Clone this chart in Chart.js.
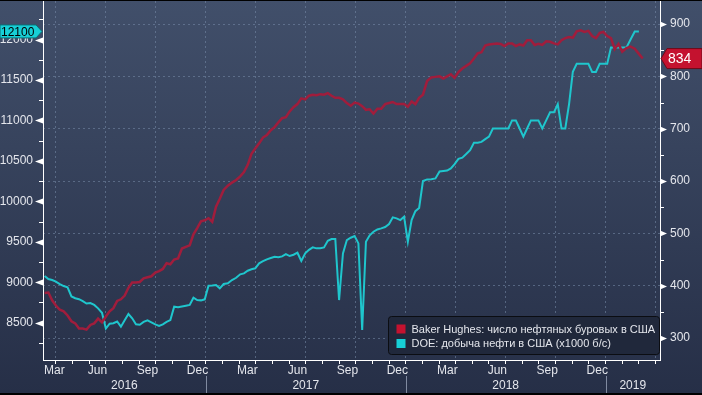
<!DOCTYPE html>
<html>
<head>
<meta charset="utf-8">
<script src="https://cdn.jsdelivr.net/npm/chart.js@4.4.1/dist/chart.umd.min.js"></script>
<style>
  html, body { margin: 0; padding: 0; background: #000; }
  canvas { display: block; }
</style>
</head>
<body>
<canvas id="chart" width="702" height="395"></canvas>
<script>
// weekly Baker Hughes oil rig count, Fridays from 2016-03-11
const rigStart = '2016-03-11';
const rigCount = [
  386, 387, 372,
  362, 354, 351, 343, 332,
  328, 318, 318, 316,
  325, 328, 337, 330,
  341, 351, 357, 371, 374,
  381, 396, 406, 406,
  407, 414, 416, 418, 425,
  428, 432, 443, 441,
  450, 452, 471, 474,
  477, 498, 510, 523, 525,
  529, 522, 551, 566,
  583, 591, 597, 602,
  609, 617, 631, 652, 662,
  672, 683, 688, 697,
  703, 712, 720, 722,
  733, 741, 747, 758, 756,
  763, 765, 764, 766,
  765, 768, 763, 759,
  759, 756, 749, 744, 750,
  748, 743, 736, 737,
  729, 738, 738, 747,
  749, 751, 747, 747, 747,
  742, 752, 747, 759,
  765, 791, 798, 799,
  800, 796, 800, 804, 797,
  808, 815, 820, 825,
  834, 844, 846, 859,
  861, 862, 863, 862, 858,
  863, 863, 858, 861,
  859, 869, 869, 860, 862,
  860, 867, 866, 863,
  861, 869, 873, 875,
  874, 886, 888, 885, 887,
  877, 873, 883, 885,
  877, 873, 852, 862,
  847, 854, 857, 853,
  843, 834
];

// weekly DOE crude output, thousand b/d, from 2016-03-11
const prodStart = '2016-03-11';
const prodValues = [
  9077, 9040, 9027, 9008, 8977, 8953, 8938, 8825, 8802, 8791,
  8767, 8737, 8743, 8720, 8677, 8622, 8428, 8487, 8494, 8515,
  8451, 8530, 8607, 8554, 8480, 8475, 8510, 8530, 8505, 8480,
  8460, 8480, 8510, 8533, 8698, 8690, 8700, 8710, 8719, 8809,
  8780, 8776, 8789, 8957, 8960, 8966, 8925, 8978, 8987, 9027,
  9055, 9098, 9110, 9142, 9160, 9172, 9234, 9260, 9283, 9300,
  9315, 9308, 9320, 9348, 9324, 9340, 9365, 9262, 9357, 9400,
  9431, 9419, 9420, 9431, 9513, 9534, 9534, 8780, 9357, 9521,
  9550, 9571, 9480, 8410, 9500, 9580, 9624, 9653, 9666, 9682,
  9719, 9802, 9789, 9768, 9809, 9500, 9768, 9879, 9919, 10251,
  10271, 10273, 10283, 10369, 10375, 10381, 10407, 10460, 10525, 10540,
  10586, 10633, 10723, 10723, 10735, 10769, 10800, 10900, 10900, 10900,
  10900, 10900, 11000, 11000, 10900, 10800, 10900, 11000, 11000, 11000,
  10900, 11000, 11100, 11100, 11200, 10900, 10900, 11200, 11600, 11700,
  11700, 11700, 11700, 11600, 11600, 11700, 11700, 11700, 11900, 11900,
  11900, 11900, 11900, 12000, 12100, 12100
];

const prodTicks = [8500, 9000, 9500, 10000, 10500, 11000, 11500, 12000];
const rigTicks = [300, 400, 500, 600, 700, 800, 900];
const monthNames = ['Jan', 'Feb', 'Mar', 'Apr', 'May', 'Jun', 'Jul', 'Aug', 'Sep', 'Oct', 'Nov', 'Dec'];
const seriesNames = [
  'Baker Hughes: число нефтяных буровых в США',
  'DOE: добыча нефти в США (x1000 б/с)'
];
const viewStart = '2016-03-08';
const viewEnd = '2019-04-09';

const RED = '#a01d3c';
const CYAN = '#1fc6cd';
const GRID = 'rgba(120,140,170,0.55)';
const TXT = '#e4e6ec';
const FONT = '"Liberation Sans", Arial, sans-serif';

// months since Jan 2016, fractional
function monthPos(d) {
  const y = d.getUTCFullYear(), mo = d.getUTCMonth(), day = d.getUTCDate();
  const dim = new Date(Date.UTC(y, mo + 1, 0)).getUTCDate();
  return (y - 2016) * 12 + mo + (day - 1) / dim;
}
function parseDay(s) { return new Date(s + 'T00:00:00Z'); }
function weekly(start, values) {
  const t0 = parseDay(start).getTime();
  return values.map((v, i) => ({ x: monthPos(new Date(t0 + i * 7 * 864e5)), y: v }));
}

const xMin = monthPos(parseDay(viewStart));
const xMax = monthPos(parseDay(viewEnd));

const bgPlugin = {
  id: 'bg',
  beforeDraw(chart) {
    const { ctx, width, height } = chart;
    ctx.save();
    ctx.fillStyle = '#000';
    ctx.fillRect(0, 0, width, height);
    const g = ctx.createLinearGradient(0, 1, 0, height - 2);
    g.addColorStop(0, '#414f6a');
    g.addColorStop(1, '#262f47');
    ctx.fillStyle = g;
    ctx.fillRect(0, 1, width, height - 3);
    ctx.restore();
  }
};

function flagShape(ctx, pts, fill, stroke) {
  ctx.beginPath();
  pts.forEach((p, i) => i ? ctx.lineTo(p[0], p[1]) : ctx.moveTo(p[0], p[1]));
  ctx.closePath();
  ctx.fillStyle = fill;
  ctx.fill();
  if (stroke) { ctx.strokeStyle = stroke; ctx.lineWidth = 1; ctx.stroke(); }
}

const decorPlugin = {
  id: 'decor',
  afterDraw(chart) {
    const { ctx, chartArea: a, scales } = chart;
    const xs = scales.x, yl = scales.yL, yr = scales.yR;
    ctx.save();
    ctx.fillStyle = '#fff';
    ctx.strokeStyle = '#fff';
    ctx.lineWidth = 1;

    // major tick arrows
    prodTicks.forEach(v => {
      const y = Math.round(yl.getPixelForValue(v)) + 0.5;
      ctx.beginPath();
      ctx.moveTo(a.left, y - 3); ctx.lineTo(a.left - 8, y); ctx.lineTo(a.left, y + 3);
      ctx.closePath(); ctx.fill();
    });
    rigTicks.forEach(v => {
      const y = Math.round(yr.getPixelForValue(v)) + 0.5;
      ctx.beginPath();
      ctx.moveTo(a.right, y - 3); ctx.lineTo(a.right + 7, y); ctx.lineTo(a.right, y + 3);
      ctx.closePath(); ctx.fill();
    });
    // minor ticks halfway between majors
    const pStep = prodTicks[1] - prodTicks[0];
    for (let v = prodTicks[0] - pStep / 2; v <= yl.max; v += pStep) {
      if (v < yl.min) continue;
      const y = Math.round(yl.getPixelForValue(v)) + 0.5;
      ctx.beginPath(); ctx.moveTo(a.left - 4, y); ctx.lineTo(a.left, y); ctx.stroke();
    }
    const rStep = rigTicks[1] - rigTicks[0];
    for (let v = rigTicks[0] - rStep / 2; v <= yr.max; v += rStep) {
      if (v < yr.min) continue;
      const y = Math.round(yr.getPixelForValue(v)) + 0.5;
      ctx.beginPath(); ctx.moveTo(a.right, y); ctx.lineTo(a.right + 4, y); ctx.stroke();
    }

    // month labels, mid-month, quarterly
    ctx.font = '12px ' + FONT;
    ctx.fillStyle = TXT;
    ctx.textBaseline = 'middle';
    ctx.textAlign = 'left';
    for (let m = Math.floor(xMin); m < xMax; m++) {
      if (m % 3 !== 2) continue;
      if (m + 0.5 < xMin || m + 0.5 > xMax - 1) continue;
      const txt = monthNames[m % 12];
      const w = ctx.measureText(txt).width;
      let cx = xs.getPixelForValue(m + 0.5);
      if (cx - w / 2 < a.left + 1) cx = a.left + 1 + w / 2;
      ctx.fillText(txt, cx - w / 2, a.bottom + 11);
    }
    // year labels and separators
    const firstYear = 2016 + Math.floor(xMin / 12);
    const lastYear = 2016 + Math.floor(xMax / 12);
    for (let yv = firstYear; yv <= lastYear; yv++) {
      const s = Math.max(xMin, (yv - 2016) * 12);
      const e = Math.min(xMax, (yv - 2015) * 12);
      const px0 = xs.getPixelForValue(s), px1 = xs.getPixelForValue(e);
      ctx.textAlign = 'center';
      ctx.fillStyle = TXT;
      ctx.fillText(String(yv), (px0 + px1) / 2, a.bottom + 26);
      if (yv > firstYear) {
        const x = Math.round(px0) + 0.5;
        ctx.strokeStyle = '#808aa0';
        ctx.beginPath(); ctx.moveTo(x, a.bottom + 16); ctx.lineTo(x, chart.height - 2); ctx.stroke();
      }
    }

    // last value flags
    const rigLast = rigCount[rigCount.length - 1];
    const ry = yr.getPixelForValue(rigLast);
    flagShape(ctx, [[a.right + 1, ry], [a.right + 7, ry - 10], [chart.width, ry - 10],
      [chart.width, ry + 10], [a.right + 7, ry + 10]], '#c4122f', '#6e0a1a');
    ctx.font = '14px ' + FONT;
    ctx.fillStyle = '#fff';
    ctx.textAlign = 'left';
    ctx.fillText(String(rigLast), a.right + 8, ry + 1);

    const prodLast = prodValues[prodValues.length - 1];
    const py = yl.getPixelForValue(prodLast);
    flagShape(ctx, [[0, py - 6.5], [a.left - 7, py - 6.5], [a.left - 1, py],
      [a.left - 7, py + 6.5], [0, py + 6.5]], '#17cfd6', '#0a6f74');
    ctx.font = '12px ' + FONT;
    ctx.fillStyle = '#000';
    ctx.fillText(String(prodLast), 1, py + 1);

    // legend box
    const lx = 388.5, ly = 316.5, lw = 271, lh = 38;
    ctx.beginPath();
    ctx.roundRect(lx, ly, lw, lh, 3);
    ctx.fillStyle = '#20283b';
    ctx.fill();
    ctx.strokeStyle = '#0b0d12';
    ctx.stroke();
    ctx.font = '11px ' + FONT;
    chart.data.datasets.forEach((ds, i) => {
      const yy = ly + 12.5 + i * 14.5;
      ctx.fillStyle = ds.borderColor === RED ? '#c4122f' : '#17cfd6';
      ctx.fillRect(lx + 8, yy - 4.5, 9, 9);
      ctx.fillStyle = TXT;
      ctx.fillText(ds.label, lx + 23, yy + 0.5);
    });
    ctx.restore();
  }
};

function noPad(s) {
  s.paddingTop = 0; s.paddingBottom = 0; s.paddingLeft = 0; s.paddingRight = 0;
}

Chart.defaults.font.family = FONT;
Chart.defaults.font.size = 12;

new Chart(document.getElementById('chart'), {
  type: 'line',
  data: {
    datasets: [
      {
        label: seriesNames[0],
        data: weekly(rigStart, rigCount),
        yAxisID: 'yR',
        borderColor: RED,
        borderWidth: 2.5,
        pointRadius: 0,
        tension: 0
      },
      {
        label: seriesNames[1],
        data: weekly(prodStart, prodValues),
        yAxisID: 'yL',
        borderColor: CYAN,
        borderWidth: 2,
        pointRadius: 0,
        tension: 0
      }
    ]
  },
  options: {
    responsive: false,
    animation: false,
    devicePixelRatio: 1,
    layout: { padding: { top: 1, bottom: 2, left: 0, right: 0 } },
    plugins: { legend: { display: false }, tooltip: { enabled: false } },
    scales: {
      x: {
        type: 'linear',
        min: xMin,
        max: xMax,
        afterBuildTicks: s => {
          s.ticks = [];
          for (let m = Math.ceil(xMin); m <= xMax; m++) s.ticks.push({ value: m });
        },
        ticks: { display: false, autoSkip: false },
        grid: {
          color: c => (c.tick && c.tick.value % 3 === 0) ? GRID : 'rgba(0,0,0,0)',
          lineWidth: 1,
          drawTicks: true,
          tickLength: 4,
          tickColor: '#ffffff',
          tickWidth: 1
        },
        border: { color: '#ffffff', width: 1, dash: [2, 3] },
        afterFit: s => { s.height = 33; noPad(s); }
      },
      yL: {
        type: 'linear',
        position: 'left',
        min: 8039,
        max: 12476,
        afterBuildTicks: s => { s.ticks = prodTicks.map(v => ({ value: v })); },
        ticks: { color: TXT, padding: 10, font: { size: 12 }, callback: v => String(v) },
        grid: { display: false, drawTicks: false },
        border: { color: '#ffffff', width: 1 },
        afterFit: s => { s.width = 43; noPad(s); }
      },
      yR: {
        type: 'linear',
        position: 'right',
        min: 258,
        max: 944,
        afterBuildTicks: s => { s.ticks = rigTicks.map(v => ({ value: v })); },
        ticks: { color: TXT, padding: 10, font: { size: 12 }, callback: v => String(v) },
        grid: { color: GRID, lineWidth: 1, drawTicks: false },
        border: { color: '#ffffff', width: 1, dash: [2, 3] },
        afterFit: s => { s.width = 42; noPad(s); }
      }
    }
  },
  plugins: [bgPlugin, decorPlugin]
});
</script>
</body>
</html>
